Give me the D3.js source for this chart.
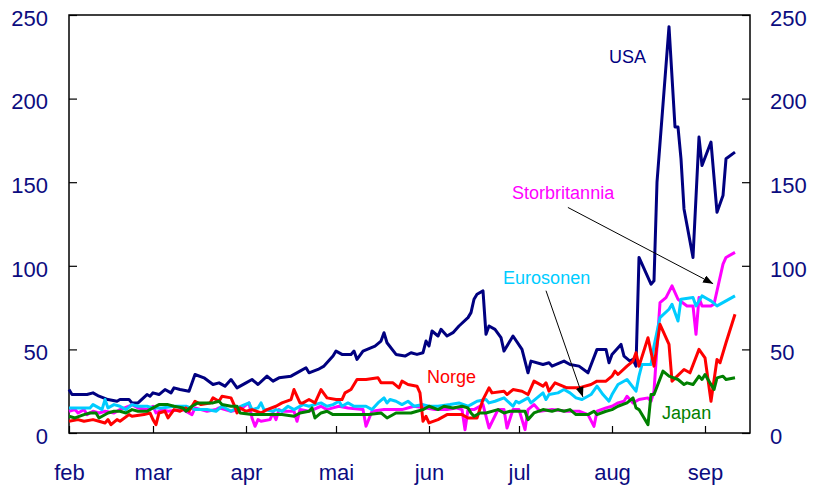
<!DOCTYPE html>
<html>
<head>
<meta charset="utf-8">
<script src="https://cdn.jsdelivr.net/npm/d3@7"></script>
<style>
    body { margin: 0; background: #fff; }
    svg text { font-family: Arial, "Liberation Sans", sans-serif; }
</style>
</head>
<body>
<svg width="813" height="490"></svg>
<script>
// [days after 1 Feb 2007, value]
let usa = [[0,26],[1,23],[6,23],[8,24],[10,22],[13,20],[16,19],[17,20],[20,20],[21,18],[23,18],[26,23],[27,22],[28,24],[30,23],[32,26],[34,24],[35,27],[37,26],[40,25],[42,35],[45,33],[48,29],[50,30],[52,28],[54,32],[56,27],[59,30],[61,32],[63,29],[66,34],[68,31],[70,33],[74,34],[77,37],[79,39],[80,36],[83,38],[85,40],[88,46],[89,49],[91,47],[94,47],[95,49],[96,44],[98,49],[102,52],[104,55],[105,60],[106,54],[109,47],[112,46],[114,48],[116,47],[118,48],[119,55],[120,52],[121,61],[123,58],[124,62],[126,58],[128,60],[130,64],[133,69],[134,72],[135,80],[136,83],[138,85],[139,59],[140,64],[142,62],[144,57],[145,49],[148,58],[151,50],[153,36],[154,43],[158,41],[160,42],[161,40],[165,43],[167,41],[170,40],[173,36],[176,50],[179,50],[180,42],[181,47],[184,53],[185,46],[187,43],[188,44],[189,40],[190,105],[194,89],[195,91],[196,150],[200,243],[202,183],[203,183],[204,164],[205,134],[208,105],[210,177],[211,160],[214,174],[216,132],[218,142],[219,164],[222,168]];

let norge = [[0,7],[3,8],[5,7],[8,8],[10,7],[12,6],[13,8],[14,5],[16,8],[17,7],[20,11],[21,10],[25,11],[27,12],[28,8],[29,5],[30,12],[32,13],[33,9],[35,14],[37,13],[39,15],[40,13],[42,19],[44,17],[47,18],[48,21],[50,19],[51,22],[54,21],[55,17],[56,12],[57,15],[59,13],[61,14],[64,12],[66,14],[69,16],[71,18],[74,20],[75,26],[77,18],[78,18],[80,20],[82,18],[84,26],[86,21],[89,20],[91,20],[92,24],[94,26],[96,32],[99,32],[103,33],[104,30],[108,30],[110,27],[111,31],[113,29],[116,28],[117,24],[118,7],[119,10],[120,6],[123,8],[126,11],[131,11],[133,9],[136,9],[138,20],[140,27],[141,24],[145,25],[146,23],[148,26],[151,25],[153,23],[155,31],[158,28],[159,30],[160,25],[162,30],[166,27],[170,27],[174,29],[176,31],[179,31],[181,34],[182,37],[183,35],[186,40],[188,43],[189,48],[190,40],[193,57],[195,40],[197,65],[200,53],[201,31],[205,38],[207,36],[210,50],[212,45],[214,19],[216,44],[217,42],[219,54],[222,71]];

let eurosonen = [[0,15],[3,15],[7,15],[8,17],[10,15],[11,14],[12,20],[13,15],[15,17],[17,16],[19,14],[21,17],[23,16],[26,16],[28,15],[31,15],[35,16],[39,16],[42,14],[45,14],[46,14],[49,13],[51,16],[54,13],[56,15],[60,18],[61,14],[63,15],[64,18],[65,14],[68,13],[69,14],[71,13],[73,16],[75,14],[78,17],[80,16],[84,18],[86,16],[88,17],[90,19],[91,16],[93,18],[95,16],[99,16],[101,14],[103,18],[105,21],[106,18],[107,20],[109,19],[111,17],[113,19],[115,16],[118,17],[120,16],[123,16],[127,17],[130,18],[133,16],[134,17],[136,19],[139,20],[140,18],[142,19],[145,21],[148,16],[149,19],[150,18],[153,21],[154,18],[158,24],[159,20],[160,23],[163,24],[165,26],[167,24],[169,21],[171,20],[174,23],[176,28],[178,23],[180,19],[181,23],[183,29],[186,32],[189,25],[190,34],[191,41],[194,41],[195,52],[197,69],[200,74],[201,77],[203,67],[204,80],[208,81],[209,76],[211,82],[213,80],[214,79],[216,76],[222,82]];

let storbritannia = [[0,13],[2,14],[3,12],[5,14],[6,11],[8,13],[10,12],[12,13],[15,12],[17,14],[20,16],[21,17],[23,15],[26,14],[28,16],[29,12],[31,14],[33,13],[38,14],[41,11],[42,15],[44,14],[46,13],[49,14],[50,15],[54,13],[57,14],[60,18],[61,9],[62,4],[63,8],[64,7],[67,8],[68,12],[69,8],[70,14],[71,13],[75,13],[76,7],[77,14],[80,13],[84,16],[86,14],[88,15],[90,16],[93,15],[98,14],[99,4],[101,13],[105,14],[111,14],[115,16],[119,15],[122,14],[126,14],[129,15],[131,14],[132,2],[133,14],[135,14],[138,17],[140,3],[143,14],[145,14],[146,3],[148,14],[150,14],[152,2],[153,14],[155,17],[157,13],[161,14],[166,13],[170,13],[173,11],[175,4],[176,13],[179,15],[181,16],[183,18],[185,19],[186,22],[188,18],[190,20],[193,21],[194,19],[195,25],[197,78],[199,81],[201,88],[203,80],[206,76],[208,76],[209,59],[210,81],[211,76],[214,76],[215,77],[218,101],[219,105],[222,108]];

let japan = [[0,10],[2,9],[5,11],[7,12],[9,12],[10,9],[13,12],[15,13],[17,13],[19,12],[21,14],[23,13],[26,13],[28,15],[30,17],[33,17],[35,16],[38,15],[39,13],[41,16],[43,18],[48,18],[50,19],[51,17],[54,16],[56,16],[57,12],[61,11],[66,11],[71,11],[75,10],[77,12],[80,13],[81,15],[82,9],[84,12],[86,13],[88,11],[95,11],[100,11],[104,12],[106,9],[109,12],[114,12],[116,13],[118,14],[120,16],[123,14],[125,16],[128,15],[131,16],[133,15],[134,12],[135,10],[137,12],[139,12],[143,14],[145,12],[147,13],[150,13],[152,13],[153,8],[155,12],[158,14],[161,13],[163,14],[165,13],[167,14],[169,11],[173,11],[175,13],[176,11],[179,13],[181,14],[183,16],[186,18],[188,21],[189,15],[190,14],[193,5],[194,23],[195,23],[198,37],[200,34],[203,32],[205,29],[206,30],[208,29],[210,34],[211,32],[212,35],[214,29],[215,26],[216,33],[218,34],[219,32],[222,33]];

let monthLabels = ["feb", "mar", "apr", "mai", "jun", "jul", "aug", "sep"];
let yTicks = [0, 50, 100, 150, 200, 250];

// label anchors (day, value) and arrows (from -> to)
let labels = [
    {text: "USA", color: "#000080", day: 180, value: 221},
    {text: "Storbritannia", color: "#ff00ff", day: 147.7, value: 139.7},
    {text: "Eurosonen", color: "#00ccff", day: 144.7, value: 89.3},
    {text: "Norge", color: "#ff0000", day: 119.3, value: 30},
    {text: "Japan", color: "#008000", day: 197.7, value: 8.4}
];
let arrows = [
    {from: [159, 85.1], to: [171.3, 21.6]},
    {from: [166.3, 134.9], to: [214.7, 89.3]}
];

let series = [
    {name: "USA", color: "#000080", values: usa},
    {name: "Storbritannia", color: "#ff00ff", values: storbritannia},
    {name: "Eurosonen", color: "#00ccff", values: eurosonen},
    {name: "Norge", color: "#ff0000", values: norge},
    {name: "Japan", color: "#008000", values: japan}
];

let svg = d3.select("svg");
let plot = {left: 69, right: 750, top: 15, bottom: 433};
let textColor = "#0c0c80";
let start = new Date(2007, 1, 1);

function dayDate(d) {
    return new Date(start.getTime() + d * 864e5);
}

let x = d3.scaleTime()
    .domain([start, new Date(2007, 8, 16)])
    .range([plot.left, plot.right]);

let y = d3.scaleLinear()
    .domain([0, 250])
    .range([plot.bottom, plot.top]);

//frame
svg.append("rect")
    .attr("x", plot.left)
    .attr("y", plot.top)
    .attr("width", plot.right - plot.left)
    .attr("height", plot.bottom - plot.top)
    .attr("fill", "none")
    .attr("stroke", "#000")
    .attr("stroke-width", 1.5);

//left and right axes, ticks pointing inward
let yLeft = svg.append("g")
    .attr("transform", "translate(" + plot.left + ",0)")
    .call(d3.axisLeft(y).tickValues(yTicks).tickSizeInner(-8).tickSizeOuter(0).tickPadding(21));

let yRight = svg.append("g")
    .attr("transform", "translate(" + plot.right + ",0)")
    .call(d3.axisRight(y).tickValues(yTicks).tickSizeInner(-8).tickSizeOuter(0).tickPadding(20));

//month axis
let months = d3.timeMonth.range(start, new Date(2007, 8, 2));
let xAxis = svg.append("g")
    .attr("transform", "translate(0," + plot.bottom + ")")
    .call(d3.axisBottom(x).tickValues(months).tickSizeInner(-7).tickSizeOuter(0).tickPadding(31)
        .tickFormat(function (d, i) { return monthLabels[i]; }));

[yLeft, yRight, xAxis].forEach(function (g) {
    g.select(".domain").remove();
    g.selectAll("line").attr("stroke", "#000").attr("stroke-width", 1.2);
    g.selectAll("text")
        .attr("fill", textColor)
        .style("font-size", "22px");
});
yLeft.selectAll("text").attr("dy", "0.47em");
yRight.selectAll("text").attr("dy", "0.47em");

//series lines
let line = d3.line()
    .x(function (p) { return x(dayDate(p[0])); })
    .y(function (p) { return y(p[1]); });

svg.append("g")
    .selectAll("path")
    .data(series)
    .join("path")
    .attr("d", function (s) { return line(s.values); })
    .attr("fill", "none")
    .attr("stroke", function (s) { return s.color; })
    .attr("stroke-width", 3)
    .attr("stroke-linejoin", "round");

//arrows
svg.append("defs").append("marker")
    .attr("id", "head")
    .attr("viewBox", "0 0 10 8")
    .attr("refX", 10)
    .attr("refY", 4)
    .attr("markerWidth", 10)
    .attr("markerHeight", 8)
    .attr("markerUnits", "userSpaceOnUse")
    .attr("orient", "auto")
    .append("path")
    .attr("d", "M0,0L10,4L0,8z")
    .attr("fill", "#000");

svg.append("g")
    .selectAll("line")
    .data(arrows)
    .join("line")
    .attr("x1", function (a) { return x(dayDate(a.from[0])); })
    .attr("y1", function (a) { return y(a.from[1]); })
    .attr("x2", function (a) { return x(dayDate(a.to[0])); })
    .attr("y2", function (a) { return y(a.to[1]); })
    .attr("stroke", "#000")
    .attr("stroke-width", 1)
    .attr("marker-end", "url(#head)");

//series labels
svg.append("g")
    .selectAll("text")
    .data(labels)
    .join("text")
    .attr("x", function (l) { return x(dayDate(l.day)); })
    .attr("y", function (l) { return y(l.value); })
    .attr("fill", function (l) { return l.color; })
    .style("font-size", "18px")
    .text(function (l) { return l.text; });
</script>
</body>
</html>
